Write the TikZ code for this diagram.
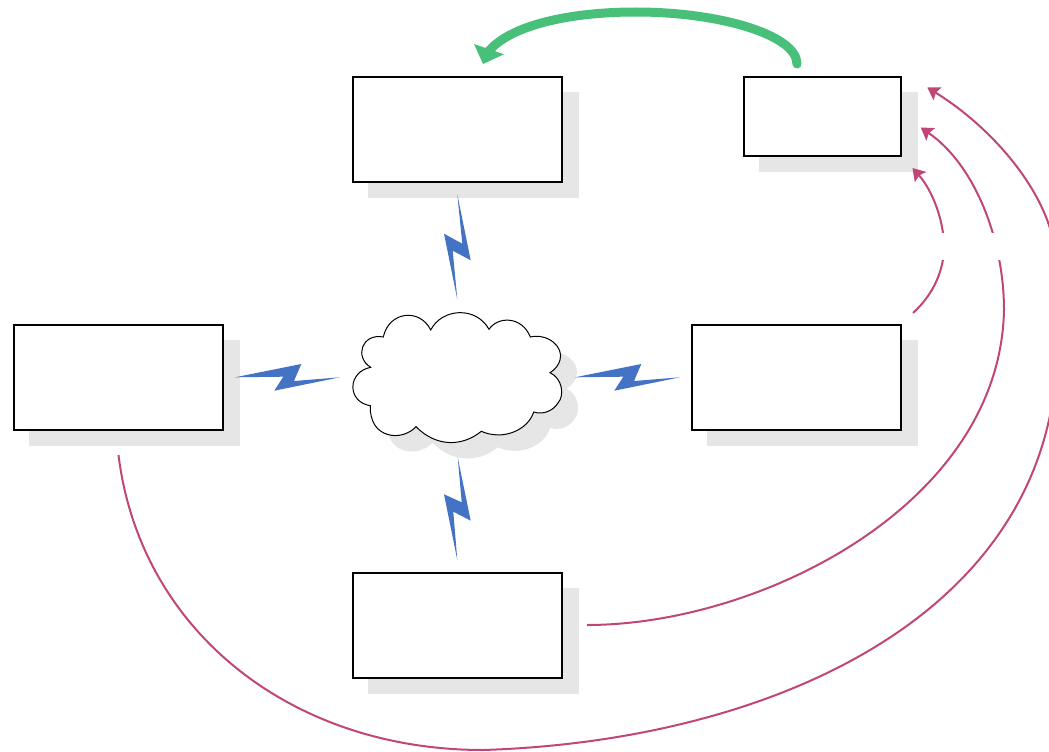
\documentclass[tikz,border=0pt]{standalone}
\usetikzlibrary{arrows.meta}
\definecolor{shadowgray}{RGB}{230,230,230}
\definecolor{boltblue}{RGB}{68,114,196}
\definecolor{linkpink}{RGB}{192,70,120}
\definecolor{flowgreen}{RGB}{72,192,122}
\tikzset{
  box/.style={draw=black,fill=white,line width=2bp,inner sep=0pt,outer sep=0pt,rectangle},
  boxshadow/.style={fill=shadowgray,draw=none,inner sep=0pt,outer sep=0pt,rectangle},
  bolt/.style={fill=boltblue,draw=none},
  link/.style={draw=linkpink,line width=2bp,-{Stealth[length=12bp,width=15bp,inset=2bp]}},
  gapmask/.style={fill=white,draw=none,inner sep=0pt,outer sep=0pt,rectangle},
}
\def\cloudpath{(430.7,330)
  .. controls (442,308) and (476,306) .. (489,329.3)
  .. controls (498,316) and (522,316) .. (530.3,337)
  .. controls (548,333) and (564,347) .. (560,360)
  .. controls (559,364) and (556,369) .. (550,372.7)
  .. controls (562,378) and (565,395) .. (558,403)
  .. controls (553,411) and (543,415) .. (533.7,412)
  .. controls (528,430) and (503,441) .. (481.3,431.3)
  .. controls (462,447) and (436,447) .. (416,426.7)
  .. controls (402,442) and (369,439) .. (370.3,405.7)
  .. controls (347,402) and (347,372) .. (370.7,367.3)
  .. controls (354,357) and (362,333) .. (383.3,337)
  .. controls (389,311) and (420,308) .. (430.7,330) -- cycle}
\def\hboltpath{(235,377.3) -- (301.3,364) -- (294,381) -- (340,377.3) -- (274.3,390.7) -- (283.3,376.7) -- cycle}
\begin{document}
\begin{tikzpicture}[x=1bp,y=-1bp]
\useasboundingbox (0,0) rectangle (1049,752);
% shadows
\node[boxshadow,minimum width=211bp,minimum height=106bp] (s1) at (473.5,145) {};
\node[boxshadow,minimum width=159bp,minimum height=80bp] (s2) at (838.5,132) {};
\node[boxshadow,minimum width=211bp,minimum height=106bp] (s3) at (134.5,393) {};
\node[boxshadow,minimum width=211bp,minimum height=106bp] (s4) at (812.5,393) {};
\node[boxshadow,minimum width=211bp,minimum height=106bp] (s5) at (473.5,640.5) {};
\begin{scope}[shift={(16.5,16)}]
  \fill[shadowgray] \cloudpath;
\end{scope}
% boxes
\node[box,minimum width=209bp,minimum height=105bp] (top) at (457.5,129.5) {};
\node[box,minimum width=157bp,minimum height=79bp] (topright) at (822.5,116.5) {};
\node[box,minimum width=209bp,minimum height=105bp] (left) at (118.5,377) {};
\node[box,minimum width=209bp,minimum height=105bp] (right) at (796.5,377) {};
\node[box,minimum width=209bp,minimum height=105bp] (bottom) at (457.5,625) {};
% cloud
\draw[black,line width=1bp,fill=white] \cloudpath;
% bolts
\fill[bolt] (457.3,194.3) -- (470.7,260.3) -- (452.7,250.7) -- (457.3,299.3) -- (444,233.7) -- (462.3,243.7) -- cycle;
\fill[bolt] (457.7,457.3) -- (470.7,520.7) -- (453.3,511.7) -- (457.3,560) -- (444,494.3) -- (461.7,502.3) -- cycle;
\fill[bolt] \hboltpath;
\begin{scope}[shift={(340,0)}]
  \fill[bolt] \hboltpath;
\end{scope}
% free ends
\coordinate (a1) at (912.5,168);
\coordinate (a1s) at (913,313);
\coordinate (a2) at (587,625);
\coordinate (a2e) at (920.7,127.5);
\coordinate (a3) at (118.5,455);
\coordinate (a3e) at (927.3,87.5);
\coordinate (g1) at (797,64);
\coordinate (g1e) at (488,52);
% pink links
\draw[link] (a1s) .. controls (935,293) and (944,268) .. (944,247)
  .. controls (944,220) and (932,190) .. (a1);
\draw[link] (a2) .. controls (760,625) and (1000,505) .. (1004,310)
  .. controls (1004,240) and (975,165) .. (a2e);
\draw[link] (a3) .. controls (140,630) and (290,750) .. (483,750)
  .. controls (740,742) and (1000,640) .. (1049,420)
  .. controls (1062,360) and (1065,280) .. (1049,225)
  .. controls (1030,170) and (980,120) .. (a3e);
\node[gapmask,minimum width=76bp,minimum height=27bp] (gap) at (972,246.5) {};
% green arrow
\draw[flowgreen,line width=9bp,line cap=round]
  (g1) .. controls (797,35) and (720,12) .. (636,12)
  .. controls (570,12) and (510,25) .. (g1e);
\fill[flowgreen] (474,44) -- (504,54.3) -- (483,64) -- cycle;
\end{tikzpicture}
\end{document}
